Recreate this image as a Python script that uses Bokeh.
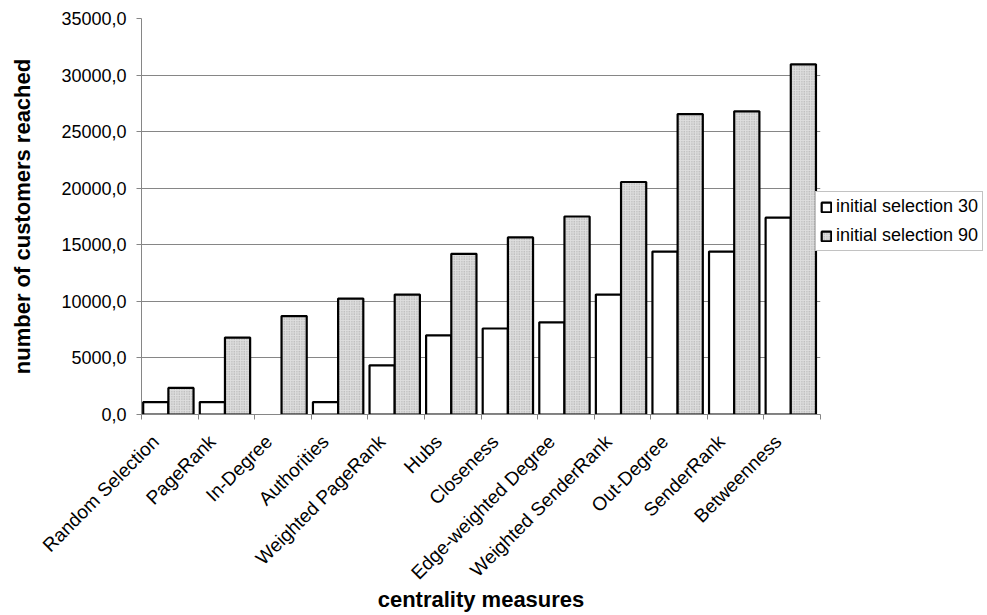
import math

from bokeh.plotting import figure
from bokeh.models import (Range1d, FixedTicker, Legend, LegendItem,
                          ColumnDataSource, CDSView, BooleanFilter)
from bokeh.embed import file_html
from bokeh.resources import INLINE

# ---- data -------------------------------------------------------------
measures = ["Random Selection", "PageRank", "In-Degree", "Authorities",
            "Weighted PageRank", "Hubs", "Closeness", "Edge-weighted Degree",
            "Weighted SenderRank", "Out-Degree", "SenderRank", "Betweenness"]
selection_30 = [1100, 1100, 0, 1100, 4350, 7000, 7600, 8150,
                10600, 14400, 14400, 17400]
selection_90 = [2350, 6800, 8700, 10250, 10600, 14200, 15650, 17500,
                20550, 26550, 26800, 30950]
series_names = ["initial selection 30", "initial selection 90"]
y_ticks = [0, 5000, 10000, 15000, 20000, 25000, 30000, 35000]
y_tick_labels = ["0,0", "5000,0", "10000,0", "15000,0",
                 "20000,0", "25000,0", "30000,0", "35000,0"]

FONT = "Liberation Sans"
GRID = "#868686"
n = len(measures)
centers = [i + 0.5 for i in range(n)]
bounds = list(range(n + 1))
bar_w = 0.445
# slanted labels hang a little down-left of each category centre
label_pos = [c - 0.25 for c in centers]

source = ColumnDataSource(dict(
    x30=[c - 0.2475 for c in centers],
    x90=[c + 0.1975 for c in centers],
    s30=selection_30,
    s90=selection_90,
))
view30 = CDSView(filter=BooleanFilter([v > 0 for v in selection_30]))

p = figure(frame_width=679, frame_height=396, output_backend="svg",
           toolbar_location=None,
           x_range=Range1d(0, n), y_range=Range1d(0, 35000),
           min_border_left=141, min_border_right=0,
           min_border_top=18, min_border_bottom=0)
p.outline_line_color = None
p.background_fill_color = "white"
p.border_fill_color = "white"

r30 = p.vbar(x="x30", top="s30", width=bar_w, bottom=0, source=source,
             view=view30, fill_color="white", line_color="black",
             line_width=2.2)
r90 = p.vbar(x="x90", top="s90", width=bar_w, bottom=0, source=source,
             fill_color="#dedede", hatch_pattern="dot", hatch_scale=2.5,
             hatch_color="#a0a0a0", hatch_weight=0.7,
             line_color="black", line_width=2.2)

# ---- x axis: labels under each category, tick marks at boundaries ------
xa = p.xaxis[0]
xa.ticker = FixedTicker(ticks=label_pos, minor_ticks=bounds)
xa.major_label_overrides = {c: m for c, m in zip(label_pos, measures)}
xa.major_tick_line_color = None
xa.minor_tick_out = 5
xa.minor_tick_in = 0
xa.minor_tick_line_color = GRID
xa.axis_line_color = GRID
xa.major_label_orientation = math.pi / 4
xa.major_label_text_font = FONT
xa.major_label_text_font_size = "19px"
xa.major_label_text_color = "black"
xa.major_label_standoff = 18
xa.axis_label = "centrality measures"
xa.axis_label_text_font = FONT
xa.axis_label_text_font_style = "bold"
xa.axis_label_text_font_size = "22px"
xa.axis_label_text_color = "black"
xa.axis_label_standoff = -7
p.xgrid.visible = False

# ---- y axis ------------------------------------------------------------
ya = p.yaxis[0]
ya.ticker = FixedTicker(ticks=y_ticks)
ya.major_label_overrides = {t: s for t, s in zip(y_ticks, y_tick_labels)}
ya.major_tick_out = 5
ya.major_tick_in = 0
ya.minor_tick_line_color = None
ya.major_tick_line_color = GRID
ya.axis_line_color = GRID
ya.major_label_text_font = FONT
ya.major_label_text_font_size = "18px"
ya.major_label_text_color = "black"
ya.major_label_standoff = 10
ya.axis_label = "number of customers reached"
ya.axis_label_text_font = FONT
ya.axis_label_text_font_style = "bold"
ya.axis_label_text_font_size = "22px"
ya.axis_label_text_color = "black"
ya.axis_label_standoff = 23
p.ygrid.grid_line_color = GRID
p.ygrid.grid_line_width = 1

# ---- legend ------------------------------------------------------------
legend = Legend(items=[LegendItem(label=series_names[0], renderers=[r30]),
                       LegendItem(label=series_names[1], renderers=[r90])],
                location=(-5, 163), orientation="vertical")
legend.label_text_font = FONT
legend.label_text_font_size = "18px"
legend.label_text_color = "black"
legend.glyph_width = 12
legend.glyph_height = 12
legend.label_standoff = 4
legend.label_height = 20
legend.spacing = 8
legend.padding = 4
legend.margin = 0
legend.border_line_color = GRID
legend.border_line_width = 1
legend.background_fill_color = "white"
legend.background_fill_alpha = 1
p.add_layout(legend, "right")

open("out.html", "w").write(file_html(p, INLINE))
